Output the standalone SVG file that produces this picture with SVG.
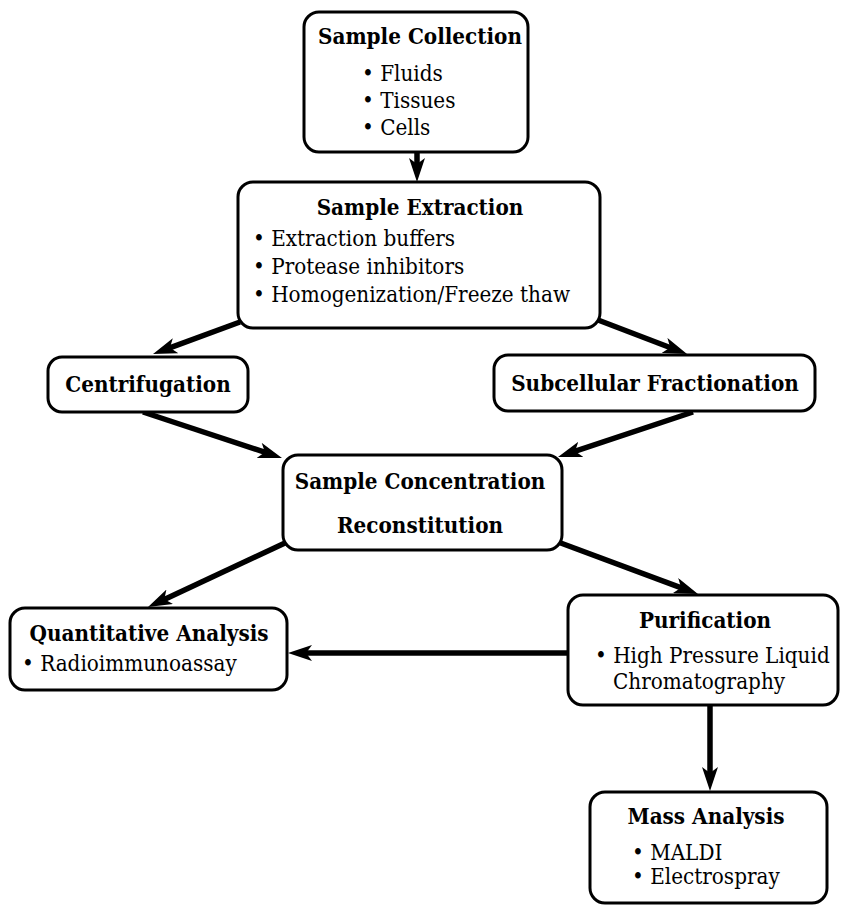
<svg xmlns="http://www.w3.org/2000/svg" width="841" height="906" viewBox="0 0 841 906">
<style>
.box{fill:#fff;stroke:#000;stroke-width:3}
.t{font-family:"DejaVu Serif","Liberation Serif",serif;font-size:22.5px;font-weight:bold;fill:#000;text-anchor:middle}
.b{font-family:"DejaVu Serif","Liberation Serif",serif;font-size:22.5px;fill:#000}
.c{fill:none;stroke:#000;stroke-width:5.5}
</style>
<defs>
<marker id="ah" markerUnits="userSpaceOnUse" viewBox="0 0 24 16" refX="12" refY="8" markerWidth="24" markerHeight="16" orient="auto">
<path d="M0,0 L24,8 L0,16 L6,8 Z" fill="#000"/>
</marker>
</defs>
<rect width="841" height="906" fill="#fff"/>
<g id="connectors">
<line class="c" x1="417" y1="152" x2="417" y2="170" marker-end="url(#ah)"/>
<line class="c" x1="240" y1="322" x2="164.3" y2="349.9" marker-end="url(#ah)"/>
<line class="c" x1="598" y1="320" x2="675.8" y2="349.7" marker-end="url(#ah)"/>
<line class="c" x1="143" y1="412" x2="270.6" y2="454.2" marker-end="url(#ah)"/>
<line class="c" x1="693" y1="412" x2="569.4" y2="453.2" marker-end="url(#ah)"/>
<line class="c" x1="285" y1="543" x2="158.9" y2="601.9" marker-end="url(#ah)"/>
<line class="c" x1="558" y1="542" x2="686.7" y2="589.8" marker-end="url(#ah)"/>
<line class="c" x1="568" y1="653" x2="300" y2="653" marker-end="url(#ah)"/>
<line class="c" x1="710" y1="705" x2="710" y2="779" marker-end="url(#ah)"/>
</g>
<g id="sample-collection">
<rect class="box" x="304" y="12" width="224" height="140" rx="15"/>
<text class="t" transform="translate(420,44) scale(0.89,1)">Sample Collection</text>
<text class="b" transform="translate(362,81) scale(0.89,1)">• Fluids</text>
<text class="b" transform="translate(362,108) scale(0.89,1)">• Tissues</text>
<text class="b" transform="translate(362,135) scale(0.89,1)">• Cells</text>
</g>
<g id="sample-extraction">
<rect class="box" x="238" y="182" width="362" height="146" rx="15"/>
<text class="t" transform="translate(420,215) scale(0.89,1)">Sample Extraction</text>
<text class="b" transform="translate(253,246) scale(0.89,1)">• Extraction buffers</text>
<text class="b" transform="translate(253,274) scale(0.89,1)">• Protease inhibitors</text>
<text class="b" transform="translate(253,302) scale(0.89,1)">• Homogenization/Freeze thaw</text>
</g>
<g id="centrifugation">
<rect class="box" x="48" y="357" width="200" height="55" rx="14"/>
<text class="t" transform="translate(148,392) scale(0.89,1)">Centrifugation</text>
</g>
<g id="subcellular-fractionation">
<rect class="box" x="494" y="355" width="321" height="56" rx="14"/>
<text class="t" transform="translate(655,391) scale(0.89,1)">Subcellular Fractionation</text>
</g>
<g id="sample-concentration">
<rect class="box" x="283" y="455" width="279" height="95" rx="15"/>
<text class="t" transform="translate(420,489) scale(0.89,1)">Sample Concentration</text>
<text class="t" transform="translate(420,533) scale(0.89,1)">Reconstitution</text>
</g>
<g id="quantitative-analysis">
<rect class="box" x="10" y="608" width="277" height="82" rx="15"/>
<text class="t" transform="translate(149,641) scale(0.89,1)">Quantitative Analysis</text>
<text class="b" transform="translate(22,671) scale(0.89,1)">• Radioimmunoassay</text>
</g>
<g id="purification">
<rect class="box" x="568" y="595" width="270" height="110" rx="15"/>
<text class="t" transform="translate(705,628) scale(0.89,1)">Purification</text>
<text class="b" transform="translate(595,663) scale(0.89,1)">• High Pressure Liquid</text>
<text class="b" transform="translate(613,689) scale(0.89,1)">Chromatography</text>
</g>
<g id="mass-analysis">
<rect class="box" x="590" y="792" width="237" height="111" rx="15"/>
<text class="t" transform="translate(706,824) scale(0.89,1)">Mass Analysis</text>
<text class="b" transform="translate(632,860) scale(0.89,1)">• MALDI</text>
<text class="b" transform="translate(632,884) scale(0.89,1)">• Electrospray</text>
</g>
</svg>
